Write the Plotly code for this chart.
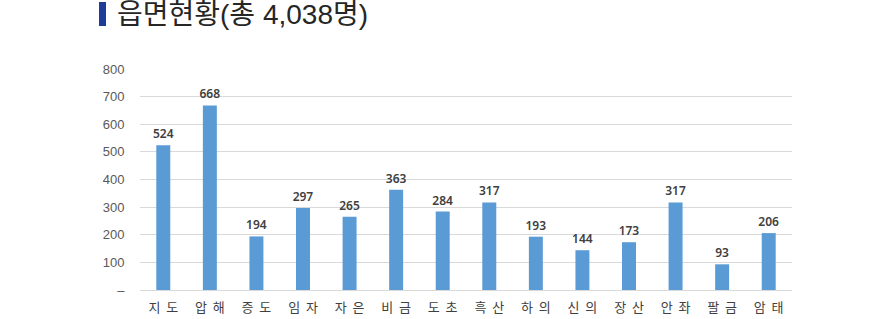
import plotly.graph_objects as go

categories = ["지  도", "압  해", "증  도", "임  자", "자  은", "비  금", "도  초", "흑  산",
              "하  의", "신  의", "장  산", "안  좌", "팔  금", "암  태"]
values = [524, 668, 194, 297, 265, 363, 284, 317, 193, 144, 173, 317, 93, 206]
ytick_vals = [0, 100, 200, 300, 400, 500, 600, 700, 800]
ytick_text = ["–", "100", "200", "300", "400", "500", "600", "700", "800"]
title_text = "읍면현황(총 4,038명)"

W, H = 891, 319
L, R, T, B = 140, 99, 69, 29
pw = W - L - R
ph = H - T - B

font = "Liberation Sans, Noto Sans CJK KR"

fig = go.Figure(go.Bar(
    x=categories, y=values,
    marker=dict(color="#5B9BD5", line=dict(width=0)),
    text=values, textposition="outside", constraintext="none",
    textfont=dict(family="Noto Sans", size=12, color="#404040", weight=600),
    cliponaxis=False,
))

fig.update_layout(
    width=W, height=H,
    margin=dict(l=L, r=R, t=T, b=B, pad=0),
    paper_bgcolor="white", plot_bgcolor="white",
    bargap=0.7,
    showlegend=False,
    font=dict(family=font),
    uniformtext=dict(mode=False),
    xaxis=dict(showgrid=False, ticks="outside", ticklen=5, tickcolor="rgba(0,0,0,0)",
               automargin=False,
               tickfont=dict(family="Noto Sans CJK KR", size=13, color="#404040"),
               showline=True, linecolor="#d9d9d9", linewidth=1),
    yaxis=dict(range=[0, 800], tickvals=ytick_vals, ticktext=ytick_text,
               showgrid=True, gridcolor="#d9d9d9", gridwidth=1, automargin=False,
               zeroline=False, ticks="outside", ticklen=12, tickcolor="rgba(0,0,0,0)",
               tickfont=dict(family="Liberation Sans", size=13, color="#595959")),
)

# title bar and text
fig.add_shape(type="rect", xref="paper", yref="paper",
              x0=(99 - L) / pw, x1=(106 - L) / pw,
              y0=(H - B - 26) / ph, y1=(H - B - 2) / ph,
              fillcolor="#1F3C99", line=dict(width=0))
fig.add_annotation(xref="paper", yref="paper",
                   x=(115 - L) / pw, y=(H - B - 14) / ph,
                   xanchor="left", yanchor="middle", showarrow=False,
                   text=title_text,
                   font=dict(family=font, size=28, color="#262626"))

fig.write_html("out.html")
